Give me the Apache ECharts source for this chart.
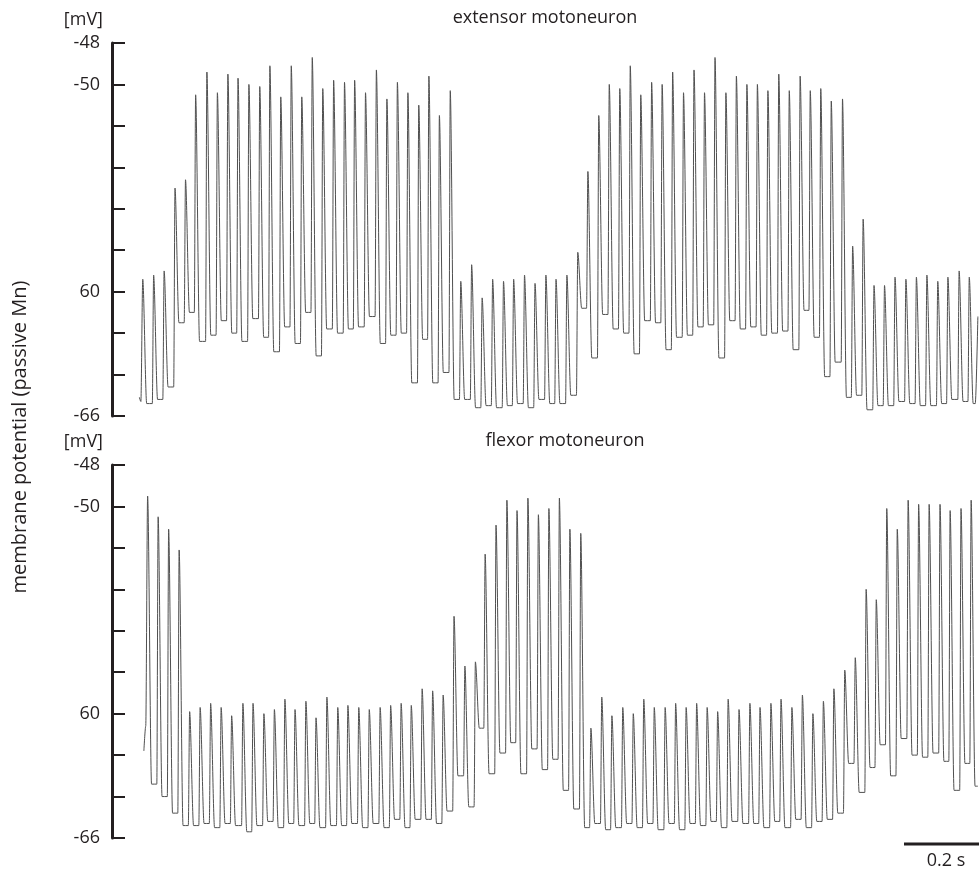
<!DOCTYPE html>
<html><head><meta charset="utf-8">
<script src="https://cdn.jsdelivr.net/npm/echarts@6/dist/echarts.min.js"></script>
<style>html,body{margin:0;padding:0;background:#fff}#c{width:979px;height:870px}</style>
</head><body><div id="c"></div>
<script>
// ---- data (time in s, potential in mV) ----
const extPeakT = [0.082,0.111,0.139,0.168,0.196,0.223,0.253,0.281,0.309,0.336,
  0.365,0.394,0.421,0.450,0.478,0.506,0.534,0.562,0.591,0.620,
  0.647,0.676,0.705,0.733,0.761,0.789,0.818,0.845,0.873,0.902,
  0.930,0.959,0.987,1.015,1.044,1.071,1.100,1.128,1.157,1.184,
  1.213,1.242,1.269,1.298,1.326,1.354,1.382,1.410,1.439,1.467,
  1.495,1.524,1.552,1.580,1.608,1.637,1.665,1.693,1.721,1.749,
  1.778,1.806,1.835,1.862,1.890,1.918,1.948,1.975,2.003,2.032,
  2.060,2.088,2.117,2.145,2.173,2.202,2.229,2.259,2.286];
const extPeakV = [-59.4,-59.2,-59.0,-55.0,-54.6,-50.5,-49.4,-50.4,-49.5,-49.7,
  -50.0,-50.1,-49.1,-50.6,-49.1,-50.6,-48.7,-50.2,-49.8,-49.9,
  -49.8,-50.4,-49.3,-50.7,-49.9,-50.4,-51.0,-49.6,-51.5,-50.3,
  -59.5,-58.7,-60.3,-59.4,-59.5,-59.4,-59.2,-59.6,-59.2,-59.4,
  -59.2,-58.1,-54.2,-51.5,-50.0,-50.2,-49.1,-50.5,-49.9,-50.0,
  -49.4,-50.4,-49.3,-50.4,-48.7,-50.4,-49.6,-50.0,-50.0,-50.3,
  -49.5,-50.3,-49.6,-50.3,-50.2,-50.8,-50.7,-57.8,-56.5,-59.7,
  -59.7,-59.3,-59.4,-59.3,-59.2,-59.5,-59.3,-59.0,-59.3];
const extTroughV = [-65.4,-65.2,-64.6,-61.5,-61.0,-62.4,-62.1,-61.4,-62.0,-62.4,
  -61.3,-62.2,-62.9,-61.7,-62.5,-61.0,-63.1,-61.8,-62.0,-61.8,
  -61.7,-61.2,-62.5,-62.1,-62.0,-64.4,-62.3,-64.4,-63.9,-65.2,
  -65.2,-65.6,-65.5,-65.6,-65.5,-65.4,-65.6,-65.2,-65.4,-65.4,
  -65.0,-60.8,-63.2,-61.1,-61.8,-62.0,-63.0,-61.4,-61.5,-62.8,
  -62.2,-62.1,-61.7,-61.6,-63.2,-61.4,-61.8,-61.7,-62.1,-62.0,
  -61.9,-62.8,-60.9,-62.2,-64.1,-63.4,-65.1,-65.0,-65.7,-65.5,
  -65.5,-65.3,-65.4,-65.5,-65.5,-65.4,-65.2,-65.3];
const extStart = [[0.073,-65.1],[0.077,-65.3]];
const extEnd = [[2.302,-65.4],[2.309,-61.2]];

const flxPeakT = [0.095,0.123,0.151,0.179,0.207,0.235,0.263,0.291,0.319,0.349,
  0.376,0.405,0.433,0.461,0.488,0.517,0.544,0.573,0.602,0.629,
  0.658,0.686,0.715,0.743,0.771,0.798,0.827,0.855,0.883,0.912,
  0.941,0.969,0.995,1.024,1.053,1.080,1.109,1.137,1.165,1.193,
  1.221,1.250,1.277,1.306,1.333,1.362,1.390,1.418,1.446,1.475,
  1.503,1.531,1.559,1.587,1.615,1.643,1.672,1.701,1.728,1.757,
  1.784,1.813,1.841,1.869,1.897,1.925,1.954,1.982,2.011,2.038,
  2.066,2.094,2.123,2.151,2.179,2.208,2.235,2.264,2.291];
const flxPeakV = [-49.5,-50.5,-51.1,-52.1,-59.9,-59.7,-59.5,-59.7,-60.1,-59.5,
  -59.5,-60.0,-59.8,-59.3,-59.8,-59.4,-60.2,-59.2,-59.7,-59.6,
  -59.7,-59.8,-59.7,-59.6,-59.5,-59.6,-58.8,-58.9,-59.1,-55.3,
  -57.7,-57.5,-52.3,-50.9,-49.7,-50.2,-49.6,-50.4,-50.1,-49.6,
  -51.1,-51.3,-60.7,-59.2,-60.1,-59.7,-60.0,-59.3,-59.7,-59.7,
  -59.5,-59.7,-59.5,-59.7,-59.9,-59.3,-59.8,-59.5,-59.7,-59.5,
  -59.3,-59.7,-59.1,-60.0,-59.4,-58.8,-57.9,-57.3,-54.0,-54.5,
  -50.1,-51.1,-49.7,-49.9,-49.9,-49.9,-50.2,-50.1,-49.7];
const flxTroughV = [-63.4,-64.0,-64.8,-65.4,-65.4,-65.3,-65.5,-65.3,-65.4,-65.7,
  -65.4,-65.2,-65.5,-65.3,-65.4,-65.3,-65.5,-65.4,-65.4,-65.3,
  -65.5,-65.3,-65.5,-65.1,-65.5,-65.1,-65.1,-65.3,-64.7,-63.0,
  -64.5,-60.7,-62.9,-61.9,-61.4,-62.9,-61.7,-62.7,-62.2,-63.7,
  -64.6,-65.5,-65.3,-65.6,-65.5,-65.3,-65.5,-65.3,-65.6,-65.3,
  -65.6,-65.3,-65.4,-65.2,-65.5,-65.2,-65.3,-65.3,-65.5,-65.2,
  -65.5,-65.1,-65.5,-65.2,-65.1,-64.8,-62.4,-63.8,-62.6,-61.5,
  -63.0,-61.2,-62.0,-62.1,-61.9,-62.3,-63.7,-62.4];
const flxStart = [[0.085,-61.8],[0.090,-60.6]];
const flxEnd = [[2.309,-63.5]];

const yTickValues = [-48, -50, -60, -66];
const yTickLabels = ['-48', '-50', '60', '-66'];
const scaleBar = [[2.112, -66.29], [2.312, -66.29]];
// spike timing: fast rise, slightly slower fall
const riseTime = 0.0035;
const fallTime = 0.0105;

function trace(start, pt, pv, tv, end) {
  const d = start.slice();
  for (let i = 0; i < pt.length; i++) {
    d.push([pt[i], pv[i]]);
    if (i < pt.length - 1) {
      d.push([pt[i] + fallTime, tv[i]]);
      d.push([pt[i + 1] - riseTime, tv[i]]);
    } else {
      d.push([pt[i] + fallTime, end[0][1]]);
    }
  }
  return d.concat(end);
}

const FONT = '"Open Sans", "Noto Sans", sans-serif';
const INK = '#231f20';

function yAxis(gi) {
  return {
    gridIndex: gi, type: 'value', min: -66, max: -48, interval: 2,
    axisLine: { show: true, lineStyle: { color: INK, width: 3 } },
    axisTick: { show: true, inside: true, length: 13, lineStyle: { color: INK, width: 2 } },
    splitLine: { show: false },
    axisLabel: {
      margin: 12, fontSize: 18, color: INK, fontFamily: FONT,
      formatter: v => { const i = yTickValues.indexOf(v); return i >= 0 ? yTickLabels[i] : ''; }
    }
  };
}
function xAxis(gi) {
  return { gridIndex: gi, type: 'value', min: 0, max: 2.312, show: false };
}

const traceStyle = { color: '#505050', width: 1 };
const chart = echarts.init(document.getElementById('c'));
chart.setOption({
  animation: false,
  backgroundColor: '#fff',
  grid: [
    { left: 112, right: 0, top: 43, height: 373 },
    { left: 112, right: 0, top: 465, height: 373 }
  ],
  xAxis: [xAxis(0), xAxis(1)],
  yAxis: [yAxis(0), yAxis(1)],
  series: [
    { type: 'line', xAxisIndex: 0, yAxisIndex: 0, showSymbol: false, symbol: 'none',
      smooth: 0.3, smoothMonotone: 'x',
      data: trace(extStart, extPeakT, extPeakV, extTroughV, extEnd), lineStyle: traceStyle },
    { type: 'line', xAxisIndex: 1, yAxisIndex: 1, showSymbol: false, symbol: 'none',
      smooth: 0.3, smoothMonotone: 'x',
      data: trace(flxStart, flxPeakT, flxPeakV, flxTroughV, flxEnd), lineStyle: traceStyle },
    { type: 'line', xAxisIndex: 1, yAxisIndex: 1, symbol: 'none', clip: false,
      data: scaleBar, lineStyle: { color: INK, width: 3 } }
  ],
  graphic: [
    { type: 'text', x: 103, y: 20, style: { text: '[mV]', font: '18px ' + FONT, fill: INK, textAlign: 'right', textVerticalAlign: 'middle' } },
    { type: 'text', x: 103, y: 442, style: { text: '[mV]', font: '18px ' + FONT, fill: INK, textAlign: 'right', textVerticalAlign: 'middle' } },
    { type: 'text', x: 545, y: 18, style: { text: 'extensor motoneuron', font: '18px ' + FONT, fill: INK, textAlign: 'center', textVerticalAlign: 'middle' } },
    { type: 'text', x: 565, y: 441, style: { text: 'flexor motoneuron', font: '18px ' + FONT, fill: INK, textAlign: 'center', textVerticalAlign: 'middle' } },
    { type: 'text', x: 20, y: 437, rotation: Math.PI / 2, style: { text: 'membrane potential (passive Mn)', font: '20px ' + FONT, fill: INK, textAlign: 'center', textVerticalAlign: 'middle' } },
    { type: 'text', x: 946, y: 861, style: { text: '0.2 s', font: '18px ' + FONT, fill: INK, textAlign: 'center', textVerticalAlign: 'middle' } }
  ]
});
</script></body></html>
